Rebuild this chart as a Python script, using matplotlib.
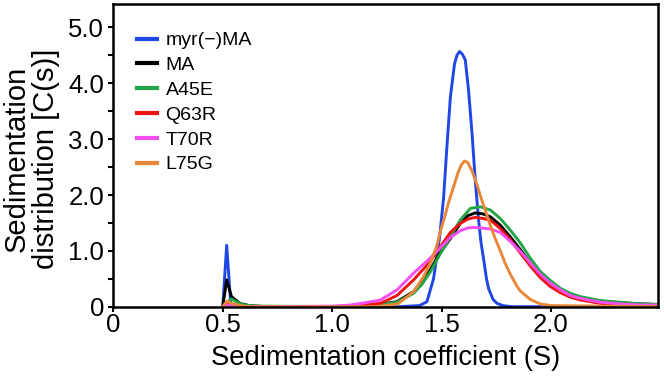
import matplotlib
matplotlib.use("Agg")
import matplotlib.pyplot as plt
from matplotlib.ticker import FixedLocator

plt.rcParams['font.family'] = ['Liberation Sans', 'DejaVu Sans']

labels = ["myr(\u2212)MA", "MA", "A45E", "Q63R", "T70R", "L75G"]
colors = ["#1f47e6", "#000000", "#23a548", "#ee1313", "#f54ef0", "#e8873a"]

myr_x = [0.50, 0.518, 0.537, 0.56, 1.30, 1.40, 1.433, 1.463, 1.48, 1.491, 1.509, 1.524, 1.540,
         1.559, 1.570, 1.582, 1.595, 1.608, 1.623, 1.639, 1.654, 1.669, 1.680, 1.692, 1.705,
         1.715, 1.735, 1.753, 1.78, 1.82, 2.49]
myr_y = [0.0, 1.10, 0.03, 0.0, 0.0, 0.02, 0.09, 0.50, 0.95, 1.25, 1.95, 2.85, 3.75,
         4.35, 4.50, 4.57, 4.52, 4.42, 3.88, 3.10, 2.25, 1.55, 1.15, 0.85, 0.50,
         0.32, 0.13, 0.06, 0.02, 0.0, 0.0]

ma_x = [0.50, 0.518, 0.54, 0.578, 0.62, 0.70, 1.10, 1.20, 1.296, 1.372, 1.41, 1.448, 1.49,
        1.54, 1.585, 1.62, 1.654, 1.69, 1.723, 1.768, 1.814, 1.86, 1.905, 1.951, 1.997,
        2.042, 2.088, 2.134, 2.226, 2.317, 2.409, 2.49]
ma_y = [0.0, 0.48, 0.18, 0.06, 0.02, 0.0, 0.0, 0.03, 0.09, 0.27, 0.44, 0.66, 0.95,
        1.22, 1.49, 1.63, 1.68, 1.66, 1.61, 1.46, 1.25, 1.02, 0.78, 0.57, 0.42,
        0.30, 0.21, 0.16, 0.10, 0.07, 0.05, 0.04]

a45e_x = [0.50, 0.52, 0.54, 0.57, 0.60, 0.65, 1.10, 1.20, 1.296, 1.372, 1.41, 1.448, 1.49,
          1.54, 1.585, 1.631, 1.677, 1.723, 1.768, 1.814, 1.86, 1.905, 1.951, 1.997,
          2.042, 2.088, 2.134, 2.226, 2.317, 2.409, 2.49]
a45e_y = [0.0, 0.08, 0.14, 0.07, 0.03, 0.01, 0.0, 0.03, 0.08, 0.24, 0.40, 0.62, 0.92,
          1.25, 1.55, 1.76, 1.79, 1.73, 1.58, 1.37, 1.14, 0.87, 0.63, 0.47,
          0.33, 0.24, 0.18, 0.11, 0.08, 0.05, 0.04]

q63r_x = [0.50, 0.52, 0.54, 0.58, 1.00, 1.10, 1.22, 1.296, 1.372, 1.448, 1.49, 1.54, 1.585,
          1.62, 1.654, 1.69, 1.723, 1.768, 1.814, 1.86, 1.905, 1.951, 1.997, 2.043, 2.088,
          2.134, 2.226, 2.317, 2.409, 2.49]
q63r_y = [0.0, 0.06, 0.03, 0.0, 0.0, 0.02, 0.06, 0.20, 0.48, 0.81, 1.05, 1.33, 1.49,
          1.57, 1.60, 1.58, 1.55, 1.40, 1.20, 0.96, 0.73, 0.52, 0.36, 0.25, 0.17,
          0.12, 0.06, 0.03, 0.02, 0.02]

t70r_x = [0.50, 0.52, 0.55, 0.60, 1.00, 1.083, 1.15, 1.22, 1.296, 1.372, 1.448, 1.50, 1.54,
          1.585, 1.62, 1.646, 1.68, 1.723, 1.768, 1.814, 1.86, 1.905, 1.951, 1.997, 2.043,
          2.088, 2.134, 2.226, 2.317, 2.409, 2.49]
t70r_y = [0.0, 0.03, 0.01, 0.0, 0.01, 0.03, 0.07, 0.12, 0.30, 0.60, 0.87, 1.08, 1.24,
          1.36, 1.41, 1.42, 1.41, 1.39, 1.33, 1.17, 0.99, 0.78, 0.58, 0.42, 0.30,
          0.20, 0.15, 0.08, 0.05, 0.03, 0.03]

l75g_x = [0.50, 0.52, 0.54, 0.57, 0.62, 1.20, 1.30, 1.372, 1.418, 1.448, 1.479, 1.494, 1.515,
          1.533, 1.555, 1.575, 1.59, 1.605, 1.62, 1.64, 1.662, 1.68, 1.70, 1.723, 1.745,
          1.768, 1.79, 1.814, 1.845, 1.86, 1.905, 1.95, 2.0, 2.49]
l75g_y = [0.0, 0.10, 0.06, 0.03, 0.0, 0.0, 0.05, 0.27, 0.54, 0.78, 1.10, 1.35, 1.62,
          1.88, 2.15, 2.40, 2.54, 2.61, 2.58, 2.42, 2.18, 1.95, 1.72, 1.45, 1.22,
          1.00, 0.78, 0.58, 0.36, 0.28, 0.13, 0.05, 0.02, 0.0]

series = [(myr_x, myr_y), (ma_x, ma_y), (a45e_x, a45e_y), (q63r_x, q63r_y),
          (t70r_x, t70r_y), (l75g_x, l75g_y)]

xticks = [0, 0.5, 1.0, 1.5, 2.0]
xticklabels = ["0", "0.5", "1.0", "1.5", "2.0"]
yticks = [0, 1, 2, 3, 4, 5]
yticklabels = ["0", "1.0", "2.0", "3.0", "4.0", "5.0"]

fig = plt.figure(figsize=(6.64, 3.78), dpi=100)
ax = fig.add_axes([113.3 / 664, (378 - 306.7) / 378, 545 / 664, 302.7 / 378])

for (xs, ys), lab, col in zip(series, labels, colors):
    ax.plot(xs, ys, color=col, lw=2.1, label=lab, solid_joinstyle='round')

ax.set_xlim(0, 2.49)
ax.set_ylim(0, 5.42)
ax.set_xticks(xticks)
ax.set_xticklabels(xticklabels)
ax.set_yticks(yticks)
ax.set_yticklabels(yticklabels)
ax.yaxis.set_minor_locator(FixedLocator([0.5, 1.5, 2.5, 3.5, 4.5]))
for s in ax.spines.values():
    s.set_linewidth(1.8)
ax.tick_params(axis='both', which='major', labelsize=18.5, length=3.5, width=1.5, pad=3)
ax.tick_params(axis='x', which='major', pad=1)
ax.tick_params(axis='y', which='minor', length=3.5, width=1.5)

ax.set_xlabel("Sedimentation coefficient (S)", fontsize=19.7, labelpad=6)
ax.set_ylabel("Sedimentation\ndistribution [C(s)]", fontsize=21, linespacing=1.05)
ax.yaxis.set_label_coords(-0.098, 0.49)

leg = ax.legend(loc='upper left', bbox_to_anchor=(0.044, 0.908), frameon=False,
                fontsize=14, handlelength=1.0, handletextpad=0.45, labelspacing=0.37,
                borderpad=0, borderaxespad=0)
for h in leg.get_lines():
    h.set_linewidth(3)

fig.savefig("out.png", dpi=100)
